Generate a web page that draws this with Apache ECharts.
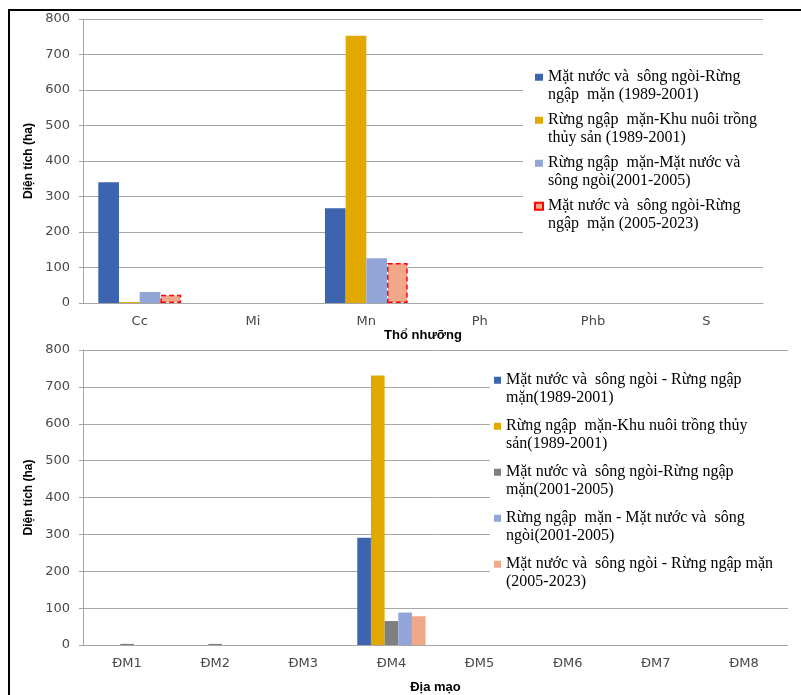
<!DOCTYPE html>
<html>
<head>
<meta charset="utf-8">
<script src="https://cdn.jsdelivr.net/npm/echarts@6/dist/echarts.min.js"></script>
<style>
  html, body { margin: 0; padding: 0; background: #ffffff; }
  #chart { width: 801px; height: 695px; }
</style>
</head>
<body>
<div id="chart"></div>
<script>
// ---- Thổ nhưỡng (upper panel) ----
const soilCategories = ['Cc', 'Mi', 'Mn', 'Ph', 'Phb', 'S'];
const soilNames = [
  'Mặt nước và  sông ngòi-Rừng\nngập  mặn (1989-2001)',
  'Rừng ngập  mặn-Khu nuôi trồng\nthủy sản (1989-2001)',
  'Rừng ngập  mặn-Mặt nước và\nsông ngòi(2001-2005)',
  'Mặt nước và  sông ngòi-Rừng\nngập  mặn (2005-2023)'
];
const soilWaterToMangrove8901 = [340, 0, 267, 0, 0, 0];
const soilMangroveToAqua8901 = [3, 0, 753, 0, 0, 0];
const soilMangroveToWater0105 = [31, 0, 126, 0, 0, 0];
const soilWaterToMangrove0523 = [23, null, 113, null, null, null];

// ---- Địa mạo (lower panel) ----
const landformCategories = ['ĐM1', 'ĐM2', 'ĐM3', 'ĐM4', 'ĐM5', 'ĐM6', 'ĐM7', 'ĐM8'];
const landformNames = [
  'Mặt nước và  sông ngòi - Rừng ngập\nmặn(1989-2001)',
  'Rừng ngập  mặn-Khu nuôi trồng thủy\nsản(1989-2001)',
  'Mặt nước và  sông ngòi-Rừng ngập\nmặn(2001-2005)',
  'Rừng ngập  mặn - Mặt nước và  sông\nngòi(2001-2005)',
  'Mặt nước và  sông ngòi - Rừng ngập mặn\n(2005-2023)'
];
const landWaterToMangrove8901 = [0, 0, 0, 291, 0, 0, 0, 0];
const landMangroveToAqua8901 = [0, 0, 0, 731, 0, 0, 0, 0];
const landWaterToMangrove0105 = [3, 3, 0, 65, 0, 0, 0, 0];
const landMangroveToWater0105 = [0, 0, 0, 88, 0, 0, 0, 0];
const landWaterToMangrove0523 = [0, 0, 0, 78, 0, 0, 0, 0];

const yTicks = { min: 0, max: 800, interval: 100 };

const C_BLUE = '#3D64AE';
const C_GOLD = '#E1A900';
const C_LBLUE = '#91A6D6';
const C_SALMON = '#F1A88A';
const C_GRAY = '#7F7F7F';

const labelFont = 'DejaVu Sans';
const legendFont = 'Liberation Serif';

function valueAxis(gridIndex) {
  return {
    type: 'value', gridIndex,
    min: yTicks.min, max: yTicks.max, interval: yTicks.interval,
    name: 'Diện tích (ha)',
    nameLocation: 'middle', nameGap: 47, nameRotate: 90,
    nameTextStyle: { fontFamily: 'Liberation Sans', fontWeight: 'bold', fontSize: 12, color: '#000' },
    axisLine: { show: true, lineStyle: { color: '#A6A6A6', width: 1 } },
    axisTick: { show: true, length: 4, lineStyle: { color: '#A6A6A6' } },
    axisLabel: { fontFamily: labelFont, fontSize: 13, color: '#484848', margin: 13 },
    splitLine: { lineStyle: { color: '#A6A6A6', width: 1 } }
  };
}

function categoryAxis(gridIndex, data, name, gap) {
  return {
    type: 'category', gridIndex, data,
    name, nameLocation: 'middle', nameGap: gap,
    nameTextStyle: { fontFamily: 'Liberation Sans', fontWeight: 'bold', fontSize: 13, color: '#000' },
    axisLine: { show: true, lineStyle: { color: '#A6A6A6', width: 1 } },
    axisTick: { show: false },
    axisLabel: { fontFamily: labelFont, fontSize: 13, color: '#484848', margin: 12 }
  };
}

function bars(name, data, color, axisIdx, gap, extraStyle) {
  return {
    type: 'bar', name, data,
    xAxisIndex: axisIdx, yAxisIndex: axisIdx,
    barGap: '0%', barCategoryGap: gap,
    itemStyle: Object.assign({ color }, extraStyle || {}),
    emphasis: { disabled: true },
    animation: false
  };
}

// A leading blank line keeps the key square level with the first text line.
const legendText = {
  fontFamily: legendFont, fontSize: 16, lineHeight: 17.5, color: '#000'
};
const legendFormatter = (name) => '\n' + name;

const option = {
  animation: false,
  backgroundColor: '#ffffff',
  grid: [
    { left: 83, top: 19, width: 680, height: 284 },
    { left: 83, top: 350, width: 705, height: 297 }
  ],
  xAxis: [
    categoryAxis(0, soilCategories, 'Thổ nhưỡng', 24),
    categoryAxis(1, landformCategories, 'Địa mạo', 36)
  ],
  yAxis: [valueAxis(0), valueAxis(1)],
  legend: [
    {
      data: soilNames, orient: 'vertical', left: 534, top: 51,
      itemWidth: 8, itemHeight: 7, itemGap: -9.5, padding: 0,
      icon: 'rect', textStyle: legendText, formatter: legendFormatter, selectedMode: false
    },
    {
      data: landformNames, orient: 'vertical', left: 494, top: 354,
      itemWidth: 7, itemHeight: 7, itemGap: -6.5, padding: 0,
      icon: 'rect', textStyle: legendText, formatter: legendFormatter, selectedMode: false
    }
  ],
  graphic: [
    // page frame
    { type: 'rect', shape: { x: 9, y: 10, width: 900, height: 900 },
      style: { fill: 'none', stroke: '#000', lineWidth: 2 }, z: 10, silent: true },
    // white boxes behind the two legends
    { type: 'rect', shape: { x: 523, y: 58, width: 250, height: 177 },
      style: { fill: '#fff' }, z: 3, silent: true },
    { type: 'rect', shape: { x: 490, y: 358, width: 305, height: 243 },
      style: { fill: '#fff' }, z: 3, silent: true }
  ],
  series: [
    bars(soilNames[0], soilWaterToMangrove8901, C_BLUE, 0, '27%'),
    bars(soilNames[1], soilMangroveToAqua8901, C_GOLD, 0, '27%'),
    bars(soilNames[2], soilMangroveToWater0105, C_LBLUE, 0, '27%'),
    bars(soilNames[3], soilWaterToMangrove0523, C_SALMON, 0, '27%',
      { borderColor: '#FF0000', borderWidth: 1.5, borderType: [5, 3] }),
    bars(landformNames[0], landWaterToMangrove8901, C_BLUE, 1, '22.5%'),
    bars(landformNames[1], landMangroveToAqua8901, C_GOLD, 1, '22.5%'),
    bars(landformNames[2], landWaterToMangrove0105, C_GRAY, 1, '22.5%'),
    bars(landformNames[3], landMangroveToWater0105, C_LBLUE, 1, '22.5%'),
    bars(landformNames[4], landWaterToMangrove0523, C_SALMON, 1, '22.5%')
  ]
};

const chart = echarts.init(document.getElementById('chart'), null, { renderer: 'canvas' });
chart.setOption(option);
</script>
</body>
</html>
